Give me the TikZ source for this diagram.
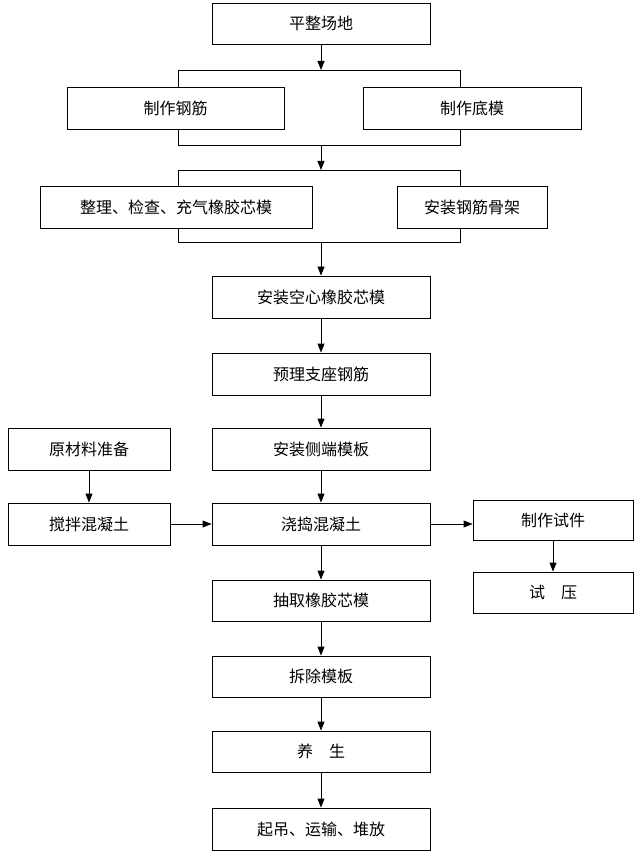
\documentclass[tikz,border=0pt]{standalone}
\usepackage{fontspec}
\newfontfamily\cjk{Noto Sans CJK SC}
\usetikzlibrary{arrows.meta}
\begin{document}
\begin{tikzpicture}[x=1pt,y=-1pt,
  box/.style={draw,line width=0.9pt,inner sep=0pt,font=\cjk\fontsize{16}{18}\selectfont},
  ln/.style={line width=0.9pt},
  ar/.style={ln,-{Triangle[length=9pt,width=7pt]}}]
\useasboundingbox (0,0) rectangle (640,858);
\newcommand\bx[6]{\node[box,minimum width=#4-#2,minimum height=#5-#3] (#1) at ({(#2+#4)/2},{(#3+#5)/2}) {#6};}
\bx{a}{212}{3}{430}{44}{平整场地}
\bx{b1}{67}{87}{284}{129}{制作钢筋}
\bx{b2}{363}{87}{581}{129}{制作底模}
\bx{c1}{40}{186}{312}{228}{整理、检查、充气橡胶芯模}
\bx{c2}{397}{186}{547}{228}{安装钢筋骨架}
\bx{d}{212}{276}{430}{318}{安装空心橡胶芯模}
\bx{e}{212}{353}{430}{395}{预理支座钢筋}
\bx{f}{212}{428}{430}{470}{安装侧端模板}
\bx{g1}{8}{428}{170}{470}{原材料准备}
\bx{g2}{8}{503}{170}{545}{搅拌混凝土}
\bx{h}{212}{503}{430}{545}{浇捣混凝土}
\bx{t1}{473}{500}{633}{540}{制作试件}
\bx{t2}{473}{572}{633}{613}{试\quad 压}
\bx{i}{212}{580}{430}{621}{抽取橡胶芯模}
\bx{j}{212}{656}{430}{697}{拆除模板}
\bx{k}{212}{731}{430}{772}{养\quad 生}
\bx{l}{212}{808}{430}{850}{起吊、运输、堆放}
\coordinate (p1) at (321,70);
\coordinate (p2) at (321,145);
\coordinate (p3) at (321,170);
\coordinate (p4) at (321,242);
\draw[ar] (a.south) -- (p1);
\draw[ln] (178,87) -- (178,70) -- (460,70) -- (460,87);
\draw[ln] (178,129) -- (178,145) -- (460,145) -- (460,129);
\draw[ar] (p2) -- (p3);
\draw[ln] (178,186) -- (178,170) -- (460,170) -- (460,186);
\draw[ln] (178,228) -- (178,242) -- (460,242) -- (460,228);
\draw[ar] (p4) -- (d.north);
\draw[ar] (d) -- (e);
\draw[ar] (e) -- (f);
\draw[ar] (f) -- (h);
\draw[ar] (g1) -- (g2);
\draw[ar] (g2) -- (h);
\draw[ar] (h.east) -- (t1.west|-h.east);
\draw[ar] (t1.south-|553,0) -- (t2.north-|553,0);
\draw[ar] (h) -- (i);
\draw[ar] (i) -- (j);
\draw[ar] (j) -- (k);
\draw[ar] (k) -- (l);
\end{tikzpicture}
\end{document}
